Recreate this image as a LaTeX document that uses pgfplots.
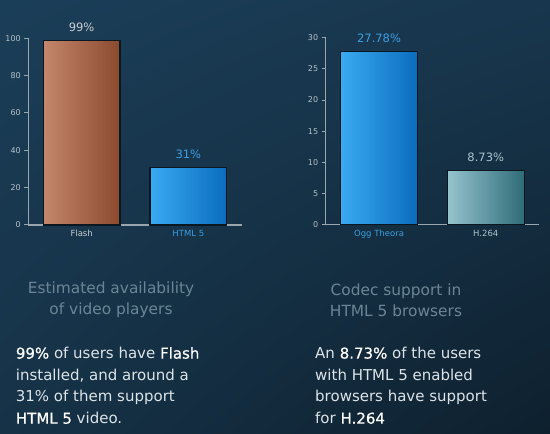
\documentclass[border=0pt]{standalone}
\usepackage{pgfplots}
\pgfplotsset{compat=1.18}
\usetikzlibrary{shadings}
\usepackage{fontspec}
\setmainfont{DejaVu Sans}
\newfontfamily\emf{DejaVu Sans}[FakeBold=0.6]
\newcommand{\hl}[1]{{\emf\textcolor{white}{#1}}}
\definecolor{bgA}{HTML}{1B3E58}
\definecolor{bgB}{HTML}{0E202E}
\definecolor{axisgray}{HTML}{9AA6AE}
\definecolor{ticktext}{HTML}{B4C0C8}
\definecolor{flashL}{HTML}{C4866C}
\definecolor{flashR}{HTML}{8A4A2E}
\definecolor{blueL}{HTML}{3AAAF2}
\definecolor{blueR}{HTML}{0A6CBE}
\definecolor{tealL}{HTML}{96C4CE}
\definecolor{tealR}{HTML}{2E6C78}
\definecolor{valgray}{HTML}{C8CED2}
\definecolor{valblue}{HTML}{3C9EE2}
\definecolor{valteal}{HTML}{A8C6CE}
\definecolor{titlecol}{HTML}{6C8596}
\definecolor{bodycol}{HTML}{DCE4E8}
\definecolor{barborder}{HTML}{0A1620}
\begin{document}
\begin{tikzpicture}
\shade[upper left=bgA, upper right=bgA!75!bgB, lower left=bgA!60!bgB, lower right=bgB] (0pt,0pt) rectangle (550pt,434pt);
\pgfplotsset{
  mybar/.style={
    scale only axis,
    /pgf/number format/assume math mode=true,
    axis x line*=bottom, axis y line*=left,
    axis line style={axisgray, line width=1.2pt},
    xmin=-0.5, xmax=1.5, ymin=0,
    width=213.4pt, height=186.7pt,
    xtick={0,1}, extra x ticks={0.5,1.5}, extra x tick labels={},
    extra x tick style={major tick length=4pt, tick align=inside, tick style={axisgray, line width=1.2pt}},
    major x tick style={draw=none},
    major y tick style={axisgray, line width=1pt},
    major tick length=4pt, tick align=outside,
    y tick label style={font=\fontsize{8}{9}\selectfont, text=ticktext},
    x tick label style={font=\fontsize{8.5}{10}\selectfont, yshift=2pt},
    clip=false,
    nodes near coords={\pgfmathprintnumber[fixed,precision=2]{\pgfplotspointmeta}\%},
    every node near coord/.append style={font=\fontsize{11.5}{13}\selectfont, yshift=5pt},
  },
  barst/.style={ybar, bar width=0.72, bar shift=0pt, draw=barborder, line width=1.2pt},
}
\begin{axis}[mybar, at={(28.3pt,209pt)}, anchor=south west, ymax=100,
  ytick={0,20,40,60,80,100},
  xticklabels={\textcolor{valgray}{Flash}, \textcolor{valblue}{HTML 5}}]
\addplot[barst, left color=flashL, right color=flashR, every node near coord/.append style={text=valgray}] coordinates {(0,99)};
\addplot[barst, left color=blueL, right color=blueR, every node near coord/.append style={text=valblue}] coordinates {(1,31)};
\end{axis}
\begin{axis}[mybar, at={(325.7pt,209.5pt)}, anchor=south west, ymax=30,
  ytick={0,5,10,15,20,25,30},
  xticklabels={\textcolor{valblue}{Ogg Theora}, \textcolor{valteal}{H.264}}]
\addplot[barst, left color=blueL, right color=blueR, every node near coord/.append style={text=valblue}] coordinates {(0,27.78)};
\addplot[barst, left color=tealL, right color=tealR, every node near coord/.append style={text=valteal}] coordinates {(1,8.73)};
\end{axis}
\node[align=center, text=titlecol, font=\fontsize{15.4}{20.7}\selectfont] at (111pt,134pt) {Estimated availability\\of video players};
\node[align=center, text=titlecol, font=\fontsize{15.4}{20.7}\selectfont] at (396pt,134pt) {Codec support in\\HTML 5 browsers};
\node[align=left, anchor=north west, text=bodycol, font=\fontsize{15}{21.7}\selectfont, inner sep=0pt] at (15.7pt,87pt) {\hl{99\%} of users have \hl{Flash}\\installed, and around a\\31\% of them support\\\hl{HTML 5} video.};
\node[align=left, anchor=north west, text=bodycol, font=\fontsize{15}{21.7}\selectfont, inner sep=0pt] at (315pt,87pt) {An \hl{8.73\%} of the users\\with HTML 5 enabled\\browsers have support\\for \hl{H.264}};
\end{tikzpicture}
\end{document}
